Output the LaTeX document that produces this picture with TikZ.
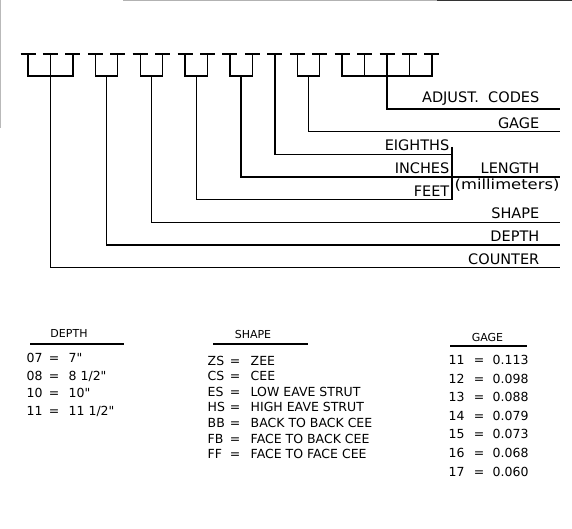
\documentclass[tikz,border=0pt]{standalone}
\usepackage{fontspec}
\setmainfont{DejaVu Sans}[Ligatures=TeXOff]
\usepackage{graphicx}
\usetikzlibrary{positioning}

\begin{document}
\begin{tikzpicture}[x=1pt,y=-1pt,line width=1.4pt,
  lbl/.style={inner sep=0pt,font=\fontsize{14.5}{17}\selectfont},
  tbar/.style={line width=1.9pt},
  stem/.style={line cap=rect},
  head/.style={inner sep=0pt,font=\fontsize{11}{13}\selectfont},
  cell/.style={inner sep=0pt,anchor=base west,font=\fontsize{12.5}{15}\selectfont},
  rule/.style={line width=1.5pt}]
  \useasboundingbox (0,0) rectangle (572,529);
  % scan edges
  \draw[gray!60,line width=0.8pt] (123,0.6) -- (437,0.6);
  \draw[black!80,line width=1.4pt] (437,0.7) -- (572,0.7);
  \draw[gray!55,line width=0.8pt] (0.6,0) -- (0.6,128);
  % the T marks
  \foreach \i in {0,...,18}{
    \draw[tbar] ({28+22.44*\i-7.5},54) -- ({28+22.44*\i+7.5},54);
    \draw[stem] ({28+22.44*\i},54) -- ({28+22.44*\i},76);
  }
  \foreach \a/\b in {0/2,3/4,5/6,7/8,9/10,12/13,14/18}
    \draw[stem] ({28+22.44*\a},76) -- ({28+22.44*\b},76);
  \coordinate (cntT) at (50.44,76);
  \coordinate (depT) at ({28+22.44*3.5},76);
  \coordinate (shpT) at ({28+22.44*5.5},76);
  \coordinate (ftT) at ({28+22.44*7.5},76);
  \coordinate (inT) at ({28+22.44*9.5},76);
  \coordinate (eiT) at ({28+22.44*11},76);
  \coordinate (ggT) at ({28+22.44*12.5},76);
  \coordinate (adjT) at ({28+22.44*16},76);
  % line ends
  \coordinate (adjE) at (560,109);
  \coordinate (ggE) at (560,131.6);
  \coordinate (eiE) at (452,154.3);
  \coordinate (lenJ) at (452,176.9);
  \coordinate (inE) at (560,176.9);
  \coordinate (ftE) at (452,199.6);
  \coordinate (shpE) at (560,222.2);
  \coordinate (depE) at (560,244.9);
  \coordinate (cntE) at (560,267.5);
  \coordinate (lenTop) at (452,147);
  \draw (adjT) |- (adjE);
  \draw (ggT) |- (ggE);
  \draw (eiT) |- (eiE);
  \draw (inT) |- (inE);
  \draw (ftT) |- (ftE);
  \draw (shpT) |- (shpE);
  \draw (depT) |- (depE);
  \draw (cntT) |- (cntE);
  \draw (lenTop) -- (ftE);
  % labels
  \node[lbl,above left=2.5pt and 20pt of adjE] (adj) {ADJUST.\ \ CODES};
  \node[lbl,above left=2.5pt and 20pt of ggE] (gage) {GAGE};
  \node[lbl,above left=2.5pt and 2pt of eiE] (eighths) {EIGHTHS};
  \node[lbl,above left=2.5pt and 2pt of lenJ] (inches) {INCHES};
  \node[lbl,above left=2.5pt and 20pt of inE] (length) {LENGTH};
  \node[lbl,below right=1.5pt and 2pt of lenJ,font=\fontsize{14}{16}\selectfont] (mm) {\scalebox{1.17}[1]{(millimeters)}};
  \node[lbl,above left=2.5pt and 2pt of ftE] (feet) {FEET};
  \node[lbl,above left=2.5pt and 20pt of shpE] (shape) {SHAPE};
  \node[lbl,above left=2.5pt and 20pt of depE] (depth) {DEPTH};
  \node[lbl,above left=2.5pt and 20pt of cntE] (counter) {COUNTER};
  % depth table
  \node[head] (depH) at (69,333) {DEPTH};
  \draw[rule] (30,344) -- (124,344);
  \foreach \k/\a/\b in {0/07/{7"},1/08/{8 1/2"},2/10/{10"},3/11/{11 1/2"}}{
    \node[cell] (depL\k) at (26,{362.5+17.5*\k}) {\a};
    \node[cell,anchor=base] (depQ\k) at (54,{362.5+17.5*\k}) {=};
    \node[cell] (depR\k) at (68,{362.5+17.5*\k}) {\b};
  }
  % shape table
  \node[head] (shpH) at (253,334) {SHAPE};
  \draw[rule] (213,344) -- (308,344);
  \foreach \k/\a/\b in {0/ZS/ZEE,1/CS/CEE,2/ES/LOW EAVE STRUT,3/HS/HIGH EAVE STRUT,
      4/BB/BACK TO BACK CEE,5/FB/FACE TO BACK CEE,6/FF/FACE TO FACE CEE}{
    \node[cell] (shpL\k) at (207,{365+15.6*\k}) {\a};
    \node[cell,anchor=base] (shpQ\k) at (235,{365+15.6*\k}) {=};
    \node[cell] (shpR\k) at (250,{365+15.6*\k}) {\b};
  }
  % gage table
  \node[head] (ggH) at (487.5,337) {GAGE};
  \draw[rule] (450,346) -- (527,346);
  \foreach \k/\a/\b in {0/11/0.113,1/12/0.098,2/13/0.088,3/14/0.079,
      4/15/0.073,5/16/0.068,6/17/0.060}{
    \node[cell] (ggL\k) at (448,{364.5+18.6*\k}) {\a};
    \node[cell,anchor=base] (ggQ\k) at (479,{364.5+18.6*\k}) {=};
    \node[cell] (ggR\k) at (492,{364.5+18.6*\k}) {\b};
  }
\end{tikzpicture}
\end{document}
